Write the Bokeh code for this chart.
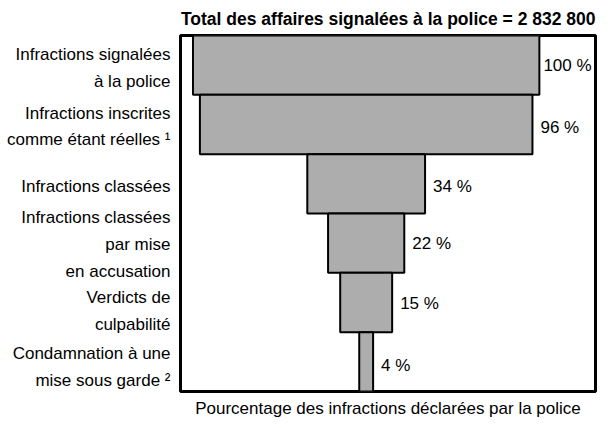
from bokeh.plotting import figure
from bokeh.models import Range1d, FixedTicker, ColumnDataSource
from bokeh.core.properties import value
from bokeh.embed import file_html
from bokeh.resources import INLINE

# ---- data ----
stages = [
    "Infractions signalées\nà la police",
    "Infractions inscrites\ncomme étant réelles ¹",
    "Infractions classées",
    "Infractions classées\npar mise\nen accusation",
    "Verdicts de\nculpabilité",
    "Condamnation à une\nmise sous garde ²",
]
percent = [100, 96, 34, 22, 15, 4]
title_text = "Total des affaires signalées à la police = 2 832 800"
x_label = "Pourcentage des infractions déclarées par la police"

# ---- layout helpers (pixels) ----
FONT = "Liberation Sans"
ROW_PX = 59.5
label_nudge_px = [3, 2, 3, 1, 9, 5]
pct_nudge_px = [0, 3, 3, 0, 1, 4]

n = len(stages)
rows = [n - 0.5 - i for i in range(n)]
label_pos = [round(r - d / ROW_PX, 4) for r, d in zip(rows, label_nudge_px)]

src = ColumnDataSource(dict(
    y=rows,
    left=[-v / 2 for v in percent],
    right=[v / 2 for v in percent],
    tx=[v / 2 for v in percent],
    txt=[f"{v} %" for v in percent],
    off=[4 if v == max(percent) else 8 for v in percent],
    yoff=pct_nudge_px,
))

p = figure(width=607, height=420,
           x_range=Range1d(-53.6, 66.2), y_range=Range1d(0, n),
           output_backend="svg", toolbar_location=None,
           min_border_left=180, min_border_right=12,
           min_border_top=35, min_border_bottom=28)

p.title.text = title_text
p.title.align = "right"
p.title.text_font = FONT
p.title.text_font_size = "17.5px"
p.title.text_font_style = "bold"
p.title.text_color = "black"
p.title.standoff = 13

p.outline_line_color = "black"
p.outline_line_width = 3
p.xgrid.visible = False
p.ygrid.visible = False
p.background_fill_color = "white"
p.border_fill_color = "white"

p.hbar(y="y", height=1, left="left", right="right", source=src,
       fill_color="#ADADAD", line_color="black", line_width=2)

p.text(x="tx", y="y", text="txt", x_offset="off", y_offset="yoff", source=src,
       text_align="left", text_baseline="middle",
       text_font=value(FONT), text_font_size=value("17px"), text_color="black")

xa = p.xaxis[0]
xa.ticker = FixedTicker(ticks=[])
xa.axis_line_color = None
xa.major_tick_line_color = None
xa.minor_tick_line_color = None
xa.major_tick_out = 0
xa.major_tick_in = 0
xa.major_label_standoff = 0
xa.axis_label = x_label
xa.axis_label_text_font = FONT
xa.axis_label_text_font_size = "17px"
xa.axis_label_text_font_style = "normal"
xa.axis_label_text_color = "black"
xa.axis_label_standoff = 7

ya = p.yaxis[0]
ya.ticker = FixedTicker(ticks=label_pos)
ya.major_label_overrides = {pos: lab for pos, lab in zip(label_pos, stages)}
ya.axis_line_color = None
ya.major_tick_line_color = None
ya.minor_tick_line_color = None
ya.major_tick_out = 0
ya.major_tick_in = 0
ya.major_label_standoff = 10
ya.major_label_text_font = FONT
ya.major_label_text_font_size = "17px"
ya.major_label_text_color = "black"
ya.major_label_text_line_height = 1.42

open("out.html", "w").write(file_html(p, INLINE))
